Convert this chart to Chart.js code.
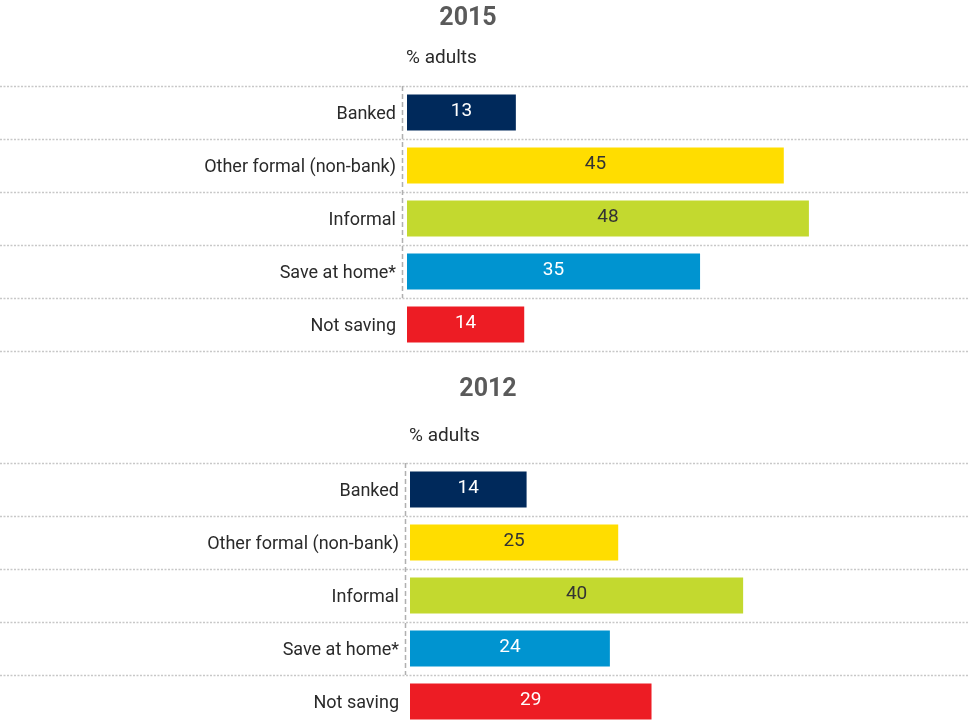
<!DOCTYPE html>
<html>
<head>
<meta charset="utf-8">
<script src="https://cdn.jsdelivr.net/npm/chart.js@4/dist/chart.umd.min.js"></script>
<style>
  body { margin: 0; background: #fff; overflow: hidden; width: 968px; height: 727px; position: relative; }
  canvas { position: absolute; left: 0; }
  #c2015 { top: 0; }
  #c2012 { top: 370px; }
</style>
</head>
<body>
<canvas id="c2015" width="968" height="363"></canvas>
<canvas id="c2012" width="968" height="360"></canvas>
<script>
// Data
const categories = ["Banked", "Other formal (non-bank)", "Informal", "Save at home*", "Not saving"];
const values2015 = [13, 45, 48, 35, 14];
const values2012 = [14, 25, 40, 24, 29];
const barColors = ["#00295B", "#FFDD00", "#C3D92F", "#0094D0", "#ED1C24"];
const valueColors = ["#ffffff", "#333333", "#333333", "#ffffff", "#ffffff"];
const subtitleText = "% adults";

const fontFamily = "Roboto, 'Liberation Sans', sans-serif";

// draws the dotted row separators, the dashed zero line, value labels and titles
const panelPlugin = {
  id: "panel",
  beforeDatasetsDraw(chart) {
    const ctx = chart.ctx;
    const yScale = chart.scales.y;
    const area = chart.chartArea;
    ctx.save();
    ctx.strokeStyle = "#c8c8c8";
    ctx.lineWidth = 1.5;
    ctx.setLineDash([2, 1.5]);
    for (let i = 0; i <= categories.length; i++) {
      const y = Math.round(yScale.getPixelForValue(i - 0.5)) + 0.5;
      ctx.beginPath();
      ctx.moveTo(0, y);
      ctx.lineTo(chart.width, y);
      ctx.stroke();
    }
    // vertical dashed line, stops above the last row
    ctx.strokeStyle = "#b0b0b0";
    ctx.lineWidth = 1.5;
    ctx.setLineDash([5, 3]);
    const x = area.left - 5 + 0.5;
    ctx.beginPath();
    ctx.moveTo(x, area.top);
    ctx.lineTo(x, yScale.getPixelForValue(categories.length - 1.5));
    ctx.stroke();
    ctx.restore();
  },
  afterDatasetsDraw(chart) {
    const ctx = chart.ctx;
    const meta = chart.getDatasetMeta(0);
    const values = chart.data.datasets[0].data;
    ctx.save();
    ctx.font = "19px " + fontFamily;
    ctx.textAlign = "center";
    ctx.textBaseline = "middle";
    meta.data.forEach((bar, i) => {
      ctx.fillStyle = valueColors[i];
      ctx.fillText(values[i], (bar.x + bar.base) / 2, bar.y - 1);
    });
    ctx.restore();
  },
  afterDraw(chart, args, opts) {
    const ctx = chart.ctx;
    ctx.save();
    ctx.textBaseline = "middle";
    ctx.fillStyle = "#5a5a5a";
    ctx.font = "bold 25px " + fontFamily;
    ctx.textAlign = "center";
    ctx.fillText(opts.title, opts.titleX, opts.titleY);
    ctx.fillStyle = "#2a2a2a";
    ctx.font = "19px " + fontFamily;
    ctx.textAlign = "left";
    ctx.fillText(subtitleText, chart.chartArea.left - 1, opts.subY);
    ctx.restore();
  }
};

function makePanel(id, title, values, p) {
  return new Chart(document.getElementById(id), {
    type: "bar",
    data: {
      labels: categories,
      datasets: [{
        data: values,
        backgroundColor: barColors,
        barPercentage: 0.68,
        categoryPercentage: 1
      }]
    },
    options: {
      indexAxis: "y",
      responsive: false,
      animation: false,
      layout: { padding: { top: p.top, bottom: p.bottom, left: 0, right: 0 } },
      plugins: {
        legend: { display: false },
        tooltip: { enabled: false },
        panel: { title: title, titleX: p.titleX, titleY: p.titleY, subY: p.subY }
      },
      scales: {
        x: { display: false, min: 0, max: 67 },
        y: {
          grid: { display: false, drawTicks: false },
          border: { display: false },
          ticks: {
            color: "#2a2a2a",
            padding: 11,
            labelOffset: 2,
            font: { family: fontFamily, size: 18 }
          },
          afterFit(scale) {
            scale.width = p.left;
            scale.paddingTop = 0;
            scale.paddingBottom = 0;
          }
        }
      }
    },
    plugins: [panelPlugin]
  });
}

makePanel("c2015", "2015", values2015, { top: 86, bottom: 12, left: 407, titleX: 468, titleY: 19, subY: 58 });
makePanel("c2012", "2012", values2012, { top: 93, bottom: 2, left: 410, titleX: 488, titleY: 20, subY: 66 });
</script>
</body>
</html>
